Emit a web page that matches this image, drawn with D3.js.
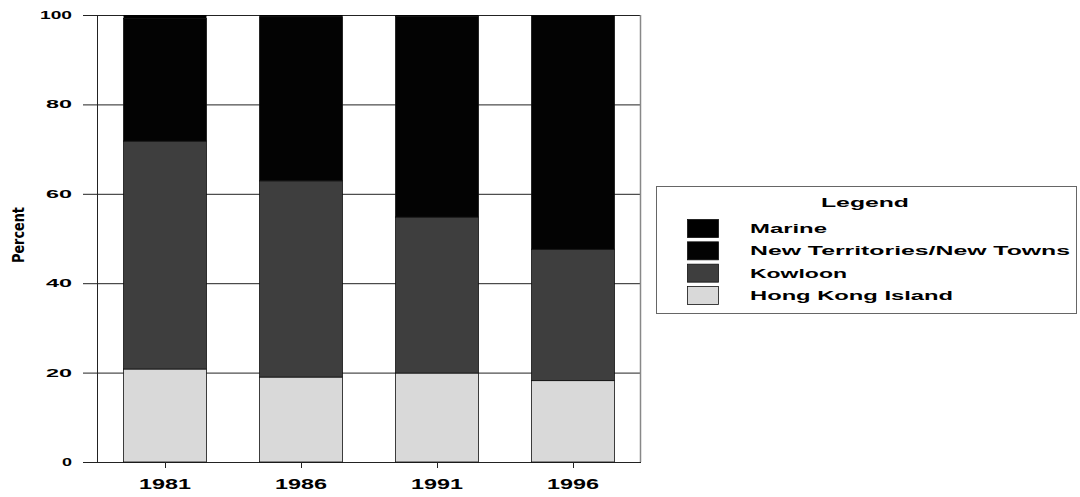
<!DOCTYPE html>
<html>
<head>
<meta charset="utf-8">
<script src="https://cdn.jsdelivr.net/npm/d3@7"></script>
<style>
  html, body { margin: 0; padding: 0; background: #ffffff; }
  svg { display: block; }
  text { font-family: "Liberation Sans", Arial, sans-serif; font-weight: bold; fill: #000; }
</style>
</head>
<body>
<svg id="chart" width="1080" height="497"></svg>
<script>
// ---- data ----
const years = ["1981", "1986", "1991", "1996"];
const hongKongIsland = [20.8, 19.0, 19.9, 18.2];
const kowloon = [51.0, 43.9, 34.9, 29.4];
const newTerritories = [27.4, 36.7, 44.9, 52.3];
const marine = [0.8, 0.4, 0.3, 0.1];
const seriesNames = ["Hong Kong Island", "Kowloon", "New Territories/New Towns", "Marine"];
const legendOrder = ["Marine", "New Territories/New Towns", "Kowloon", "Hong Kong Island"];
const yTicks = [0, 20, 40, 60, 80, 100];
const legendTitle = "Legend";
const yLabel = "Percent";

const colors = {
  "Hong Kong Island": "#d9d9d9",
  "Kowloon": "#3e3e3e",
  "New Territories/New Towns": "#030303",
  "Marine": "#000000"
};

const table = years.map((yr, i) => ({
  year: yr,
  "Hong Kong Island": hongKongIsland[i],
  "Kowloon": kowloon[i],
  "New Territories/New Towns": newTerritories[i],
  "Marine": marine[i]
}));

const svg = d3.select("#chart");
const pLeft = 97, pRight = 641, pTop = 15, pBottom = 462;

const x = d3.scaleBand().domain(years).range([pLeft, pRight]).paddingInner(0.39).paddingOuter(0.195);
const y = d3.scaleLinear().domain([0, 100]).range([pBottom, pTop]);

// gridlines
svg.append("g").selectAll("line").data(yTicks).join("line")
  .attr("x1", pLeft - 14).attr("x2", pRight)
  .attr("y1", d => y(d) + 0.5).attr("y2", d => y(d) + 0.5)
  .attr("stroke", "#222").attr("stroke-width", 1);

// frame verticals
svg.append("line").attr("x1", pLeft + 0.5).attr("x2", pLeft + 0.5).attr("y1", pTop).attr("y2", pBottom)
  .attr("stroke", "#222");
svg.append("line").attr("x1", pRight - 0.5).attr("x2", pRight - 0.5).attr("y1", pTop).attr("y2", pBottom)
  .attr("stroke", "#888").attr("stroke-width", 1.5);

// stacked bars
const stack = d3.stack().keys(seriesNames)(table);
const bars = svg.append("g");
stack.forEach(layer => {
  bars.append("g").selectAll("rect").data(layer).join("rect")
    .attr("x", d => x(d.data.year))
    .attr("width", x.bandwidth())
    .attr("y", d => y(d[1]))
    .attr("height", d => y(d[0]) - y(d[1]))
    .attr("fill", colors[layer.key])
    .attr("stroke", layer.key === "Marine" ? "none" : "#111").attr("stroke-width", 0.8);
});

// y tick labels
svg.append("g").selectAll("text").data(yTicks).join("text")
  .attr("x", 72).attr("y", d => y(d) + 4)
  .attr("text-anchor", "end")
  .attr("font-size", 11.5)
  .attr("textLength", d => String(d).length === 3 ? 32 : (String(d).length === 2 ? 26 : 10))
  .attr("lengthAdjust", "spacingAndGlyphs")
  .text(d => d);

// x axis ticks
svg.append("g").selectAll("line").data(years).join("line")
  .attr("x1", d => x(d) + x.bandwidth() / 2 + 0.5).attr("x2", d => x(d) + x.bandwidth() / 2 + 0.5)
  .attr("y1", pBottom).attr("y2", pBottom + 6)
  .attr("stroke", "#222");
svg.append("g").selectAll("text").data(years).join("text")
  .attr("x", d => x(d) + x.bandwidth() / 2)
  .attr("y", 489)
  .attr("text-anchor", "middle")
  .attr("font-size", 14)
  .attr("textLength", 52)
  .attr("lengthAdjust", "spacingAndGlyphs")
  .text(d => d);

// y label
svg.append("text")
  .attr("transform", "translate(24,235) rotate(-90)")
  .attr("text-anchor", "middle")
  .attr("font-size", 16)
  .attr("textLength", 56)
  .attr("lengthAdjust", "spacingAndGlyphs")
  .style("font-family", "'Liberation Sans Narrow', 'DejaVu Sans Condensed', sans-serif")
  .text(yLabel);

// legend
const lg = svg.append("g");
lg.append("rect").attr("x", 656.5).attr("y", 186.5).attr("width", 420).attr("height", 127)
  .attr("fill", "#fff").attr("stroke", "#666").attr("stroke-width", 1);
lg.append("text").attr("x", 865).attr("y", 207).attr("text-anchor", "middle")
  .attr("font-size", 13).attr("textLength", 88).attr("lengthAdjust", "spacingAndGlyphs")
  .text(legendTitle);
const legendWidths = { "Marine": 77, "New Territories/New Towns": 320, "Kowloon": 97, "Hong Kong Island": 203 };
const rowY = d3.scalePoint().domain(legendOrder).range([219, 286]);
const rows = lg.selectAll("g.row").data(legendOrder).join("g").attr("class", "row");
rows.append("rect")
  .attr("x", 687.5).attr("y", d => rowY(d) + 0.5)
  .attr("width", 31).attr("height", 18)
  .attr("fill", d => colors[d]).attr("stroke", "#111").attr("stroke-width", 0.8);
rows.append("text")
  .attr("x", 750).attr("y", d => rowY(d) + 14)
  .attr("font-size", 13)
  .attr("textLength", d => legendWidths[d])
  .attr("lengthAdjust", "spacingAndGlyphs")
  .text(d => d);
</script>
</body>
</html>
